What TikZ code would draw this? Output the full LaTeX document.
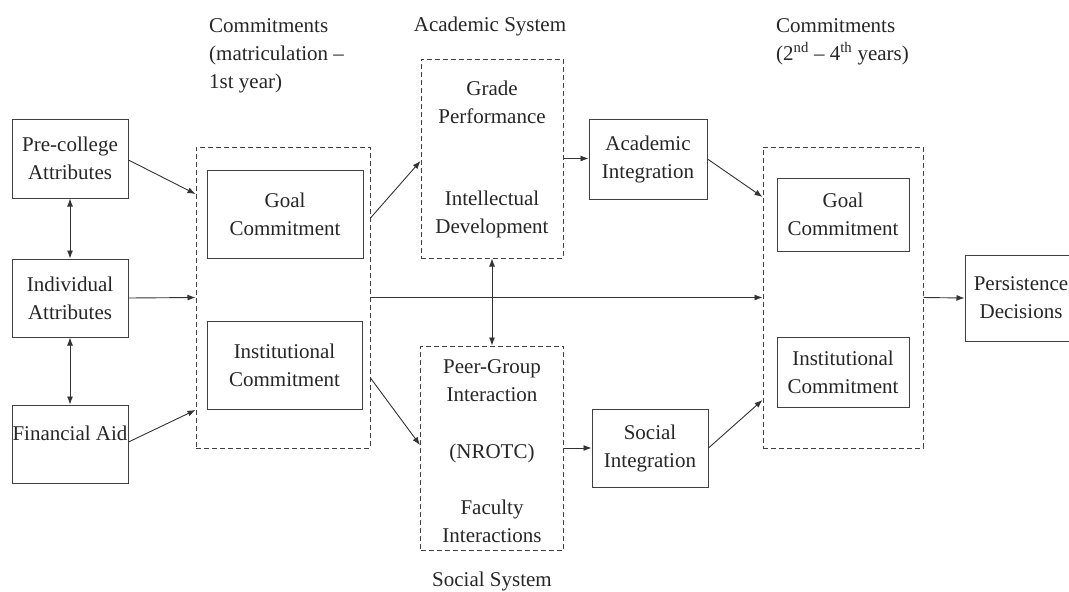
\documentclass[tikz,border=0pt]{standalone}
\usepackage{fontspec}
\setmainfont{Liberation Serif}
\usetikzlibrary{arrows.meta}
\begin{document}
\begin{tikzpicture}[x=1pt,y=-1pt,
  txt/.style={font=\fontsize{21}{28}\selectfont, text=black!85, align=center, inner sep=0pt},
  sbox/.style={draw=black!75, line width=1pt, rectangle, inner sep=0pt},
  dbox/.style={draw=black!75, line width=1pt, rectangle, inner sep=0pt, dash pattern=on 5pt off 3pt},
  arr/.style={draw=black!80, line width=0.9pt, -{Latex[length=8pt,width=6pt]}},
  darr/.style={draw=black!80, line width=0.9pt, {Latex[length=8pt,width=6pt]}-{Latex[length=8pt,width=6pt]}}]
\useasboundingbox (0,0) rectangle (1069,592);
\clip (0,0) rectangle (1069,592);
% left column
\node[sbox, txt, minimum width=116pt, minimum height=79pt] (pre) at (70,158.5) {Pre-college\\Attributes};
\node[sbox, txt, minimum width=116pt, minimum height=78pt] (ind) at (70,298) {Individual\\Attributes};
\node[sbox, minimum width=116pt, minimum height=78pt] (fin) at (70,444) {};
\node[txt] (fintxt) at (70,433) {Financial Aid};
% commitments 1
\node[dbox, minimum width=174pt, minimum height=301pt] (c1) at (283,297.5) {};
\node[sbox, txt, minimum width=156pt, minimum height=88pt] (g1) at (285,214) {Goal\\Commitment};
\node[sbox, txt, minimum width=155pt, minimum height=88pt] (i1) at (284.5,365) {Institutional\\Commitment};
\node[txt, anchor=north west, align=left] (c1lab) at (209,18) {Commitments\\(matriculation --\\1st year)};
% academic system
\node[dbox, minimum width=142pt, minimum height=199pt] (acad) at (492,158.5) {};
\node[txt] (grade) at (492,102) {Grade\\Performance};
\node[txt] (intel) at (492,214) {Intellectual\\Development};
\node[txt] (acadlab) at (490,26) {Academic System};
\node[sbox, txt, minimum width=118pt, minimum height=80pt] (ai) at (648,159) {Academic\\Integration};
% social system
\node[dbox, minimum width=143pt, minimum height=204pt] (soc) at (492,448) {};
\node[txt] (peer) at (492,381) {Peer-Group\\Interaction};
\node[txt] (nrotc) at (492,453) {(NROTC)};
\node[txt] (fac) at (492,521) {Faculty\\Interactions};
\node[txt] (soclab) at (492,581) {Social System};
\node[sbox, txt, minimum width=116pt, minimum height=78pt] (si) at (650,448) {Social\\Integration};
% commitments 2
\node[dbox, minimum width=160pt, minimum height=301pt] (c2) at (843,297.5) {};
\node[sbox, txt, minimum width=132pt, minimum height=73pt] (g2) at (843,214.5) {Goal\\Commitment};
\node[sbox, txt, minimum width=132pt, minimum height=70pt] (i2) at (843,372) {Institutional\\Commitment};
\node[txt, anchor=north west, align=left] (c2lab) at (776,18) {Commitments\\(2\textsuperscript{nd} -- 4\textsuperscript{th} years)};
% persistence
\node[sbox, txt, minimum width=112pt, minimum height=86pt] (per) at (1021,298) {Persistence\\Decisions};
% connectors
\draw[arr] ([yshift=-1.5]pre.east) -- ([yshift=103.5]c1.west);
\draw[arr] (ind.east) -- (c1.west);
\draw[arr] ([yshift=2]fin.east) -- ([yshift=-112.5]c1.west);
\draw[darr] (pre.south) -- (ind.north);
\draw[darr] (ind.south) -- (fin.north);
\draw[arr] ([yshift=79.5]c1.east) -- ([yshift=-2.5]acad.west);
\draw[arr] ([yshift=-80.5]c1.east) -- ([yshift=3]soc.west);
\draw[arr] (acad.east) -- (acad.east -| ai.west);
\draw[arr] (soc.east) -- (si.west);
\draw[arr] (ai.east) -- ([yshift=100.5]c2.west);
\draw[arr] (si.east) -- ([yshift=-102.5]c2.west);
\draw[arr] (c1.east) -- (c2.west);
\draw[darr] (acad.south) -- (acad.south |- soc.north);
\draw[arr] (c2.east) -- (per.west);
\end{tikzpicture}
\end{document}
